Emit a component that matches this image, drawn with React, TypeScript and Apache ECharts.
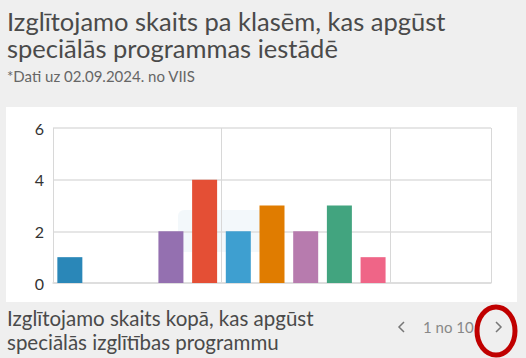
import React, { useEffect, useRef } from "react";
import * as echarts from "echarts";

const categories = [
  "1. klase", "2. klase", "3. klase", "4. klase", "5. klase", "6. klase", "7. klase",
  "8. klase", "9. klase", "10. klase", "11. klase", "12. klase", "Cits",
];
const values = [1, 0, 0, 2, 4, 2, 3, 2, 3, 1, 0, 0, 0];
const barColors = [
  "#2a87b8", "#6aa84f", "#f1c232", "#9470b0", "#e44f35", "#3e9fd0", "#e07c00",
  "#b77bae", "#42a47f", "#ef6587", "#999999", "#999999", "#999999",
];
const yTicks = [0, 2, 4, 6];
const titleLines = ["Izglītojamo skaits pa klasēm, kas apgūst", "speciālās programmas iestādē"];
const subtitle = "*Dati uz 02.09.2024. no VIIS";
const footerLines = ["Izglītojamo skaits kopā, kas apgūst", "speciālās izglītības programmu"];
const pagerText = "1 no 10";

const FONT = "Lato, 'Open Sans', sans-serif";

function txt(text: string, x: number, bottom: number, size: number, fill: string, lineHeight: number) {
  return {
    type: "text",
    x,
    y: bottom,
    style: { text, fontSize: size, fontFamily: FONT, fill, verticalAlign: "bottom", lineHeight },
  };
}

export default function App() {
  const ref = useRef<HTMLDivElement>(null);
  useEffect(() => {
    if (!ref.current) return;
    const chart = echarts.init(ref.current, null, { renderer: "svg" });
    chart.setOption({
      animation: false,
      backgroundColor: "#efefef",
      grid: { left: 53, right: 35, top: 128, bottom: 75 },
      xAxis: {
        type: "category",
        data: categories,
        axisLine: { show: true, lineStyle: { color: "#dcdcdc", width: 1.5 } },
        axisTick: { show: false },
        axisLabel: { show: false },
        splitLine: {
          show: true,
          interval: (i: number) => i % 5 === 0,
          lineStyle: { color: "#d8d8d8", width: 1 },
        },
      },
      yAxis: {
        type: "value",
        min: yTicks[0],
        max: yTicks[yTicks.length - 1],
        interval: 2,
        axisLine: { show: false },
        axisTick: { show: false },
        axisLabel: { color: "#333", fontSize: 16, fontFamily: FONT, margin: 9 },
        splitLine: { lineStyle: { color: "#dedede", width: 1.5 } },
      },
      series: [
        {
          type: "bar",
          barWidth: 25,
          data: values.map((v, i) => ({ value: v, itemStyle: { color: barColors[i] } })),
        },
      ],
      graphic: [
        { type: "rect", z: -10, shape: { x: 6, y: 107, width: 511, height: 195 }, style: { fill: "#ffffff" } },
        { type: "rect", z: -5, shape: { x: 178, y: 210, width: 98, height: 42, r: 6 }, style: { fill: "rgba(220,236,244,0.35)" } },
        txt(titleLines.join("\n"), 7, 61, 25.5, "#4a4a4a", 27),
        txt(subtitle, 7, 83, 15, "#666", 14),
        txt(footerLines.join("\n"), 7, 354, 20.5, "#4a4a4a", 24),
        { type: "polyline", shape: { points: [[404, 322], [399, 327], [404, 332]] }, style: { stroke: "#777", lineWidth: 1.5, fill: "none" } },
        txt(pagerText, 423, 334, 15, "#888", 14),
        { type: "polyline", shape: { points: [[496, 322], [501, 327], [496, 332]] }, style: { stroke: "#777", lineWidth: 1.5, fill: "none" } },
        { type: "ellipse", shape: { cx: 496, cy: 331, rx: 19, ry: 24 }, style: { stroke: "#c00000", lineWidth: 5, fill: "none" } },
      ],
    });
    return () => chart.dispose();
  }, []);
  return <div ref={ref} style={{ position: "fixed", left: 0, top: 0, width: 526, height: 358 }} />;
}
